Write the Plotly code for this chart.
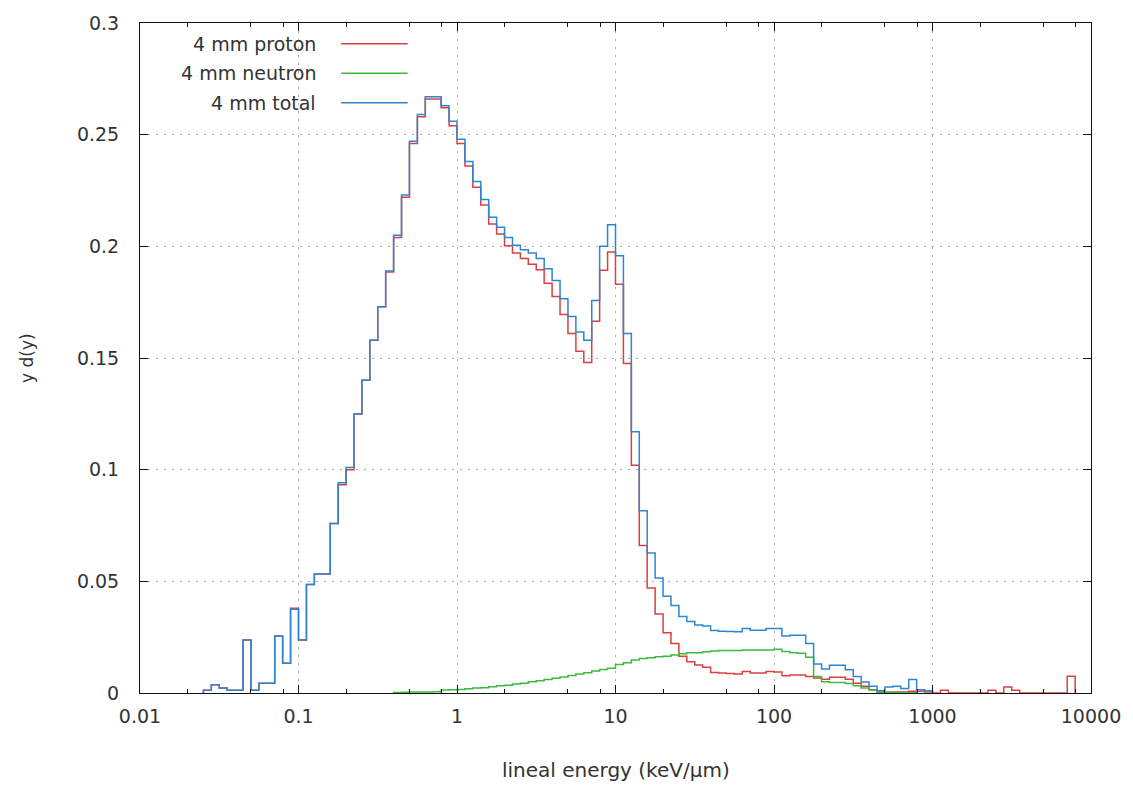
import plotly.graph_objects as go

# Log-spaced histogram: 20 bins per decade, bin k spans 10^(-2 + k/20) .. 10^(-2 + (k+1)/20)
LOG_START = -2.0
BINS_PER_DECADE = 20

# 4 mm proton, bins k = 8 .. 117
proton_first_bin = 8
proton = [
    0.0012, 0.0037, 0.0022, 0.0012, 0.0012, 0.0237, 0.0012, 0.0044, 0.0044, 0.0255, 0.0133,
    0.0380, 0.0237, 0.0486, 0.0533, 0.0533, 0.0759, 0.0933, 0.1000, 0.1249, 0.1400, 0.1580, 0.1730, 0.1885,
    0.2040, 0.2220, 0.2460, 0.2580, 0.2660, 0.2660, 0.2620, 0.2540, 0.2460, 0.2360, 0.2265, 0.2185, 0.2100,
    0.2055, 0.2003, 0.1970, 0.1945, 0.1920, 0.1895, 0.1835, 0.1775, 0.1695, 0.1610, 0.1530, 0.1480, 0.1665,
    0.1893, 0.1975, 0.1830, 0.1475,
    0.1020, 0.0660, 0.0470, 0.0354, 0.0270, 0.0222, 0.0165, 0.0140, 0.0125, 0.0115, 0.0092, 0.0089, 0.0087,
    0.0085, 0.0096, 0.0089, 0.0089, 0.0096, 0.0094, 0.0077, 0.0081, 0.0081, 0.0074,
    0.0067, 0.0062, 0.0071, 0.0071, 0.0062, 0.0044, 0.0030, 0.0015, 0.0005, 0.0003, 0.0005, 0.0005, 0.0008,
    0.0008, 0.0005,
    0.0, 0.0012, 0.0, 0.0, 0.0, 0.0, 0.0, 0.0012, 0.0, 0.0027, 0.0012, 0.0, 0.0, 0.0, 0.0, 0.0, 0.0, 0.0075,
]

# 4 mm neutron, bins k = 32 .. 97
neutron_first_bin = 32
neutron = [
    0.0002, 0.0003, 0.0004, 0.0005, 0.0005, 0.0006, 0.0013, 0.0015, 0.0016, 0.0019, 0.0022, 0.0024, 0.0028,
    0.0032, 0.0035, 0.0040, 0.0044, 0.0050, 0.0055, 0.0060, 0.0066, 0.0072, 0.0078, 0.0085, 0.0091, 0.0098,
    0.0105, 0.0111, 0.0128, 0.0135, 0.0148, 0.0155, 0.0158, 0.0162, 0.0165, 0.0170, 0.0176, 0.0180, 0.0180,
    0.0185, 0.0188, 0.0190, 0.0190, 0.0190, 0.0192, 0.0192, 0.0192, 0.0193, 0.0196, 0.0186, 0.0180, 0.0178,
    0.0160, 0.0074, 0.0050, 0.0047, 0.0047, 0.0042, 0.0032, 0.0022, 0.0013, 0.0005, 0.0003, 0.0002, 0.0001,
    0.0001,
]

# 4 mm total, bins k = 8 .. 99
total_first_bin = 8
total = [
    0.0012, 0.0037, 0.0022, 0.0012, 0.0012, 0.0237, 0.0012, 0.0044, 0.0044, 0.0255, 0.0133,
    0.0375, 0.0237, 0.0486, 0.0533, 0.0533, 0.0759, 0.0941, 0.1010, 0.1249, 0.1400, 0.1580, 0.1730, 0.1890,
    0.2050, 0.2230, 0.2470, 0.2590, 0.2670, 0.2670, 0.2630, 0.2560, 0.2480, 0.2380, 0.2290, 0.2210, 0.2130,
    0.2085, 0.2040, 0.2005, 0.1985, 0.1970, 0.1946, 0.1900, 0.1847, 0.1765, 0.1686, 0.1616, 0.1580, 0.1757,
    0.2000, 0.2097, 0.1958, 0.1610,
    0.1170, 0.0816, 0.0627, 0.0515, 0.0433, 0.0392, 0.0343, 0.0320, 0.0305, 0.0300, 0.0280, 0.0277, 0.0275,
    0.0274, 0.0289, 0.0281, 0.0281, 0.0289, 0.0289, 0.0255, 0.0259, 0.0259, 0.0222,
    0.0130, 0.0107, 0.0124, 0.0124, 0.0104, 0.0074, 0.0049, 0.0030, 0.0010, 0.0027, 0.0030, 0.0020, 0.0060,
    0.0015, 0.0010,
]

series_names = ["4 mm proton", "4 mm neutron", "4 mm total"]
series_colors = ["#d94141", "#3dba3d", "#2f86d0"]

x_tick_vals = [0.01, 0.1, 1, 10, 100, 1000, 10000]
x_tick_text = ["0.01", "0.1", "1", "10", "100", "1000", "10000"]
x_minor_vals = [m * 10.0 ** d for d in range(-2, 4) for m in (2, 5, 8)]
y_tick_vals = [0, 0.05, 0.1, 0.15, 0.2, 0.25, 0.3]
y_tick_text = ["0", "0.05", "0.1", "0.15", "0.2", "0.25", "0.3"]


def bin_edges(first_bin, n):
    return [10 ** (LOG_START + (first_bin + i) / BINS_PER_DECADE) for i in range(n + 1)]


def step_outline(first_bin, values):
    """Histogram outline: rises from zero at the first edge, falls back at the last."""
    edges = bin_edges(first_bin, len(values))
    xs = [edges[0]] + edges
    ys = [0.0] + list(values) + [0.0]
    return xs, ys


FONT = "DejaVu Sans"
TEXT_COLOR = "#333333"

fig = go.Figure()
for name, color, first, vals in zip(
    series_names,
    series_colors,
    [proton_first_bin, neutron_first_bin, total_first_bin],
    [proton, neutron, total],
):
    xs, ys = step_outline(first, vals)
    fig.add_trace(go.Scatter(
        x=xs, y=ys, mode="lines", name=name,
        line=dict(color=color, width=1.5, shape="hv"),
        showlegend=False,
    ))

grid_dash = "2px,6px"
fig.update_xaxes(
    type="log",
    range=[-2, 4],
    tickvals=x_tick_vals,
    ticktext=x_tick_text,
    ticks="inside",
    ticklen=8,
    tickwidth=1,
    tickcolor="#111111",
    minor=dict(tickvals=x_minor_vals, ticks="inside", ticklen=4, tickcolor="#111111", showgrid=False),
    showline=True,
    linecolor="#111111",
    linewidth=1,
    mirror="ticks",
    showgrid=True,
    gridcolor="#a8a8a8",
    griddash=grid_dash,
    gridwidth=1,
    zeroline=False,
    tickfont=dict(family=FONT, size=19, color=TEXT_COLOR),
    ticklabelstandoff=6,
)
fig.update_yaxes(
    range=[0, 0.3],
    tickvals=y_tick_vals,
    ticktext=y_tick_text,
    ticks="inside",
    ticklen=8,
    tickwidth=1,
    tickcolor="#111111",
    showline=True,
    linecolor="#111111",
    linewidth=1,
    mirror="ticks",
    showgrid=True,
    gridcolor="#a8a8a8",
    griddash=grid_dash,
    gridwidth=1,
    zeroline=False,
    tickfont=dict(family=FONT, size=19, color=TEXT_COLOR),
    ticklabelstandoff=16,
)

# Key in the upper-left corner: label right-aligned, line sample to its right
annotations = [
    dict(text="lineal energy (keV/\u00b5m)", x=0.5, y=0, xref="paper", yref="paper",
         xanchor="center", yanchor="middle", yshift=-77, showarrow=False,
         font=dict(family=FONT, size=20, color=TEXT_COLOR)),
    dict(text="y d(y)", x=0, y=0.5, xref="paper", yref="paper", textangle=-90,
         xanchor="center", yanchor="middle", xshift=-113, showarrow=False,
         font=dict(family=FONT, size=17, color=TEXT_COLOR)),
]
shapes = []
key_rows_y = [0.969, 0.925, 0.881]
for name, color, ky in zip(series_names, series_colors, key_rows_y):
    annotations.append(dict(
        text=name, x=0.187, y=ky, xref="paper", yref="paper",
        xanchor="right", yanchor="middle", showarrow=False,
        font=dict(family=FONT, size=19, color=TEXT_COLOR),
    ))
    shapes.append(dict(
        type="line", xref="paper", yref="paper",
        x0=0.2115, x1=0.2815, y0=ky, y1=ky,
        line=dict(color=color, width=1.5),
    ))

fig.update_layout(
    width=1133,
    height=788,
    margin=dict(l=140, r=41, t=18, b=95),
    paper_bgcolor="white",
    plot_bgcolor="white",
    annotations=annotations,
    shapes=shapes,
    showlegend=False,
)

fig.write_html("out.html")
